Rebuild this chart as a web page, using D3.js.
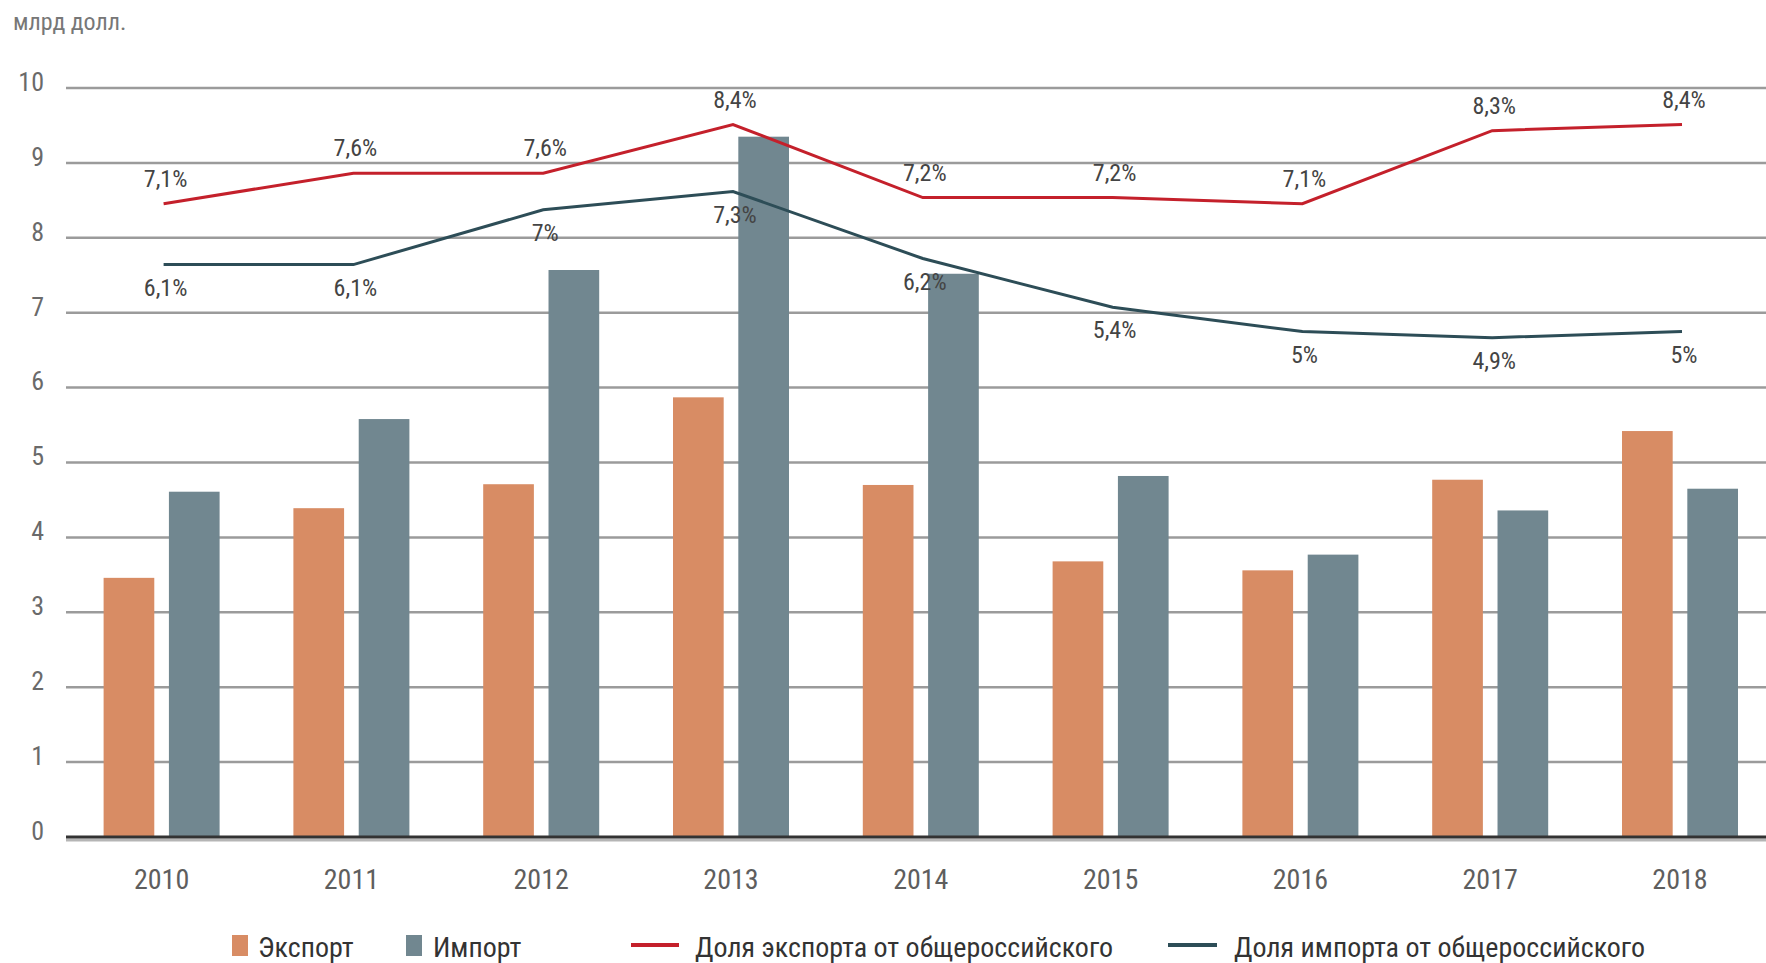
<!DOCTYPE html>
<html>
<head>
<meta charset="utf-8">
<script src="https://cdn.jsdelivr.net/npm/d3@7"></script>
<style>
  body { margin: 0; background: #fff; }
  svg text { font-family: "Liberation Sans Narrow", "Roboto Condensed", "DejaVu Sans Condensed", sans-serif; }
</style>
</head>
<body>
<div id="chart"></div>
<script>
// data
let years = ['2010','2011','2012','2013','2014','2015','2016','2017','2018'];
let exportVals = [3.46, 4.39, 4.71, 5.87, 4.70, 3.68, 3.56, 4.77, 5.42];
let importVals = [4.61, 5.58, 7.57, 9.35, 7.52, 4.82, 3.77, 4.36, 4.65];
let exportShare = [7.1, 7.6, 7.6, 8.4, 7.2, 7.2, 7.1, 8.3, 8.4];
let importShare = [6.1, 6.1, 7.0, 7.3, 6.2, 5.4, 5.0, 4.9, 5.0];
let yTicks = [0,1,2,3,4,5,6,7,8,9,10];
let legendItems = ['Экспорт', 'Импорт', 'Доля экспорта от общероссийского', 'Доля импорта от общероссийского'];

let width = 1766, height = 963;
let colExport = '#d88c64', colImport = '#718790', colRed = '#c4202b', colBlue = '#2d4d57';

let svg = d3.select('#chart').append('svg')
    .attr('width', width)
    .attr('height', height);

let y = d3.scaleLinear().domain([0, 10]).range([837, 88]);
// hidden right axis for the share lines
let yShare = d3.scaleLinear().domain([-3.3, 9]).range([837, 88]);

let x0 = d3.scaleBand().domain(years).range([66.7, 66.7 + 9 * 189.8]);
let x1 = d3.scaleBand().domain(['export', 'import']).range([0, 116]).paddingInner(0.224);
let groupLeft = d => x0(d) + 36.9;
let center = d => x0(d) + x0.bandwidth() / 2;

// y title
svg.append('text').attr('x', 13).attr('y', 30).text('млрд долл.')
    .attr('font-size', '24px').attr('fill', '#777');

// grid
svg.selectAll('.grid').data(yTicks.filter(t => t > 0)).enter().append('line')
    .attr('class', 'grid')
    .attr('x1', 66).attr('x2', width)
    .attr('y1', d => y(d)).attr('y2', d => y(d))
    .attr('stroke', '#9b9b9b').attr('stroke-width', 2.5);

svg.selectAll('.tick').data(yTicks).enter().append('text')
    .attr('class', 'tick')
    .attr('x', 44).attr('y', d => y(d) - 4)
    .attr('text-anchor', 'end').attr('dominant-baseline', 'middle')
    .attr('font-size', '26px').attr('fill', '#6a6a6a')
    .text(d => d);

// bars
let groups = svg.selectAll('.grp').data(years).enter().append('g')
    .attr('class', 'grp')
    .attr('transform', d => 'translate(' + groupLeft(d) + ',0)');

groups.append('rect')
    .attr('x', x1('export')).attr('width', x1.bandwidth())
    .attr('y', (d, i) => y(exportVals[i]))
    .attr('height', (d, i) => y(0) - y(exportVals[i]))
    .attr('fill', colExport);

groups.append('rect')
    .attr('x', x1('import')).attr('width', x1.bandwidth())
    .attr('y', (d, i) => y(importVals[i]))
    .attr('height', (d, i) => y(0) - y(importVals[i]))
    .attr('fill', colImport);

// zero line
svg.append('line').attr('x1', 66).attr('x2', width).attr('y1', y(0) + 3).attr('y2', y(0) + 3)
    .attr('stroke', '#b5b5b5').attr('stroke-width', 3);
svg.append('line').attr('x1', 66).attr('x2', width).attr('y1', y(0)).attr('y2', y(0))
    .attr('stroke', '#333').attr('stroke-width', 3);

// year labels
svg.selectAll('.year').data(years).enter().append('text')
    .attr('class', 'year')
    .attr('x', d => center(d)).attr('y', 889)
    .attr('text-anchor', 'middle')
    .attr('font-size', '28px').attr('fill', '#5e5e5e')
    .text(d => d);

// share lines
let line = d3.line()
    .x((d, i) => center(years[i]) + 2)
    .y(d => yShare(d));

svg.append('path').datum(exportShare).attr('d', line)
    .attr('fill', 'none').attr('stroke', colRed).attr('stroke-width', 3);
svg.append('path').datum(importShare).attr('d', line)
    .attr('fill', 'none').attr('stroke', colBlue).attr('stroke-width', 3);

let fmt = v => String(v).replace('.', ',') + '%';

svg.selectAll('.lblExp').data(exportShare).enter().append('text')
    .attr('class', 'lblExp')
    .attr('x', (d, i) => center(years[i]) + 4)
    .attr('y', d => yShare(d) - 17)
    .attr('text-anchor', 'middle')
    .attr('font-size', '24px').attr('fill', '#444')
    .text(fmt);

svg.selectAll('.lblImp').data(importShare).enter().append('text')
    .attr('class', 'lblImp')
    .attr('x', (d, i) => center(years[i]) + 4)
    .attr('y', d => yShare(d) + 31)
    .attr('text-anchor', 'middle')
    .attr('font-size', '24px').attr('fill', '#444')
    .text(fmt);

// legend
let lg = svg.append('g');
lg.append('rect').attr('x', 232).attr('y', 935).attr('width', 16).attr('height', 21).attr('fill', colExport);
lg.append('text').attr('x', 258).attr('y', 957).text(legendItems[0]).attr('font-size', '28px').attr('fill', '#333');
lg.append('rect').attr('x', 406).attr('y', 935).attr('width', 16).attr('height', 21).attr('fill', colImport);
lg.append('text').attr('x', 433).attr('y', 957).text(legendItems[1]).attr('font-size', '28px').attr('fill', '#333');
lg.append('line').attr('x1', 631).attr('x2', 679).attr('y1', 945).attr('y2', 945).attr('stroke', colRed).attr('stroke-width', 4);
lg.append('text').attr('x', 695).attr('y', 957).text(legendItems[2]).attr('font-size', '28px').attr('fill', '#333');
lg.append('line').attr('x1', 1168).attr('x2', 1217).attr('y1', 945).attr('y2', 945).attr('stroke', colBlue).attr('stroke-width', 4);
lg.append('text').attr('x', 1234).attr('y', 957).text(legendItems[3]).attr('font-size', '28px').attr('fill', '#333');
</script>
</body>
</html>
